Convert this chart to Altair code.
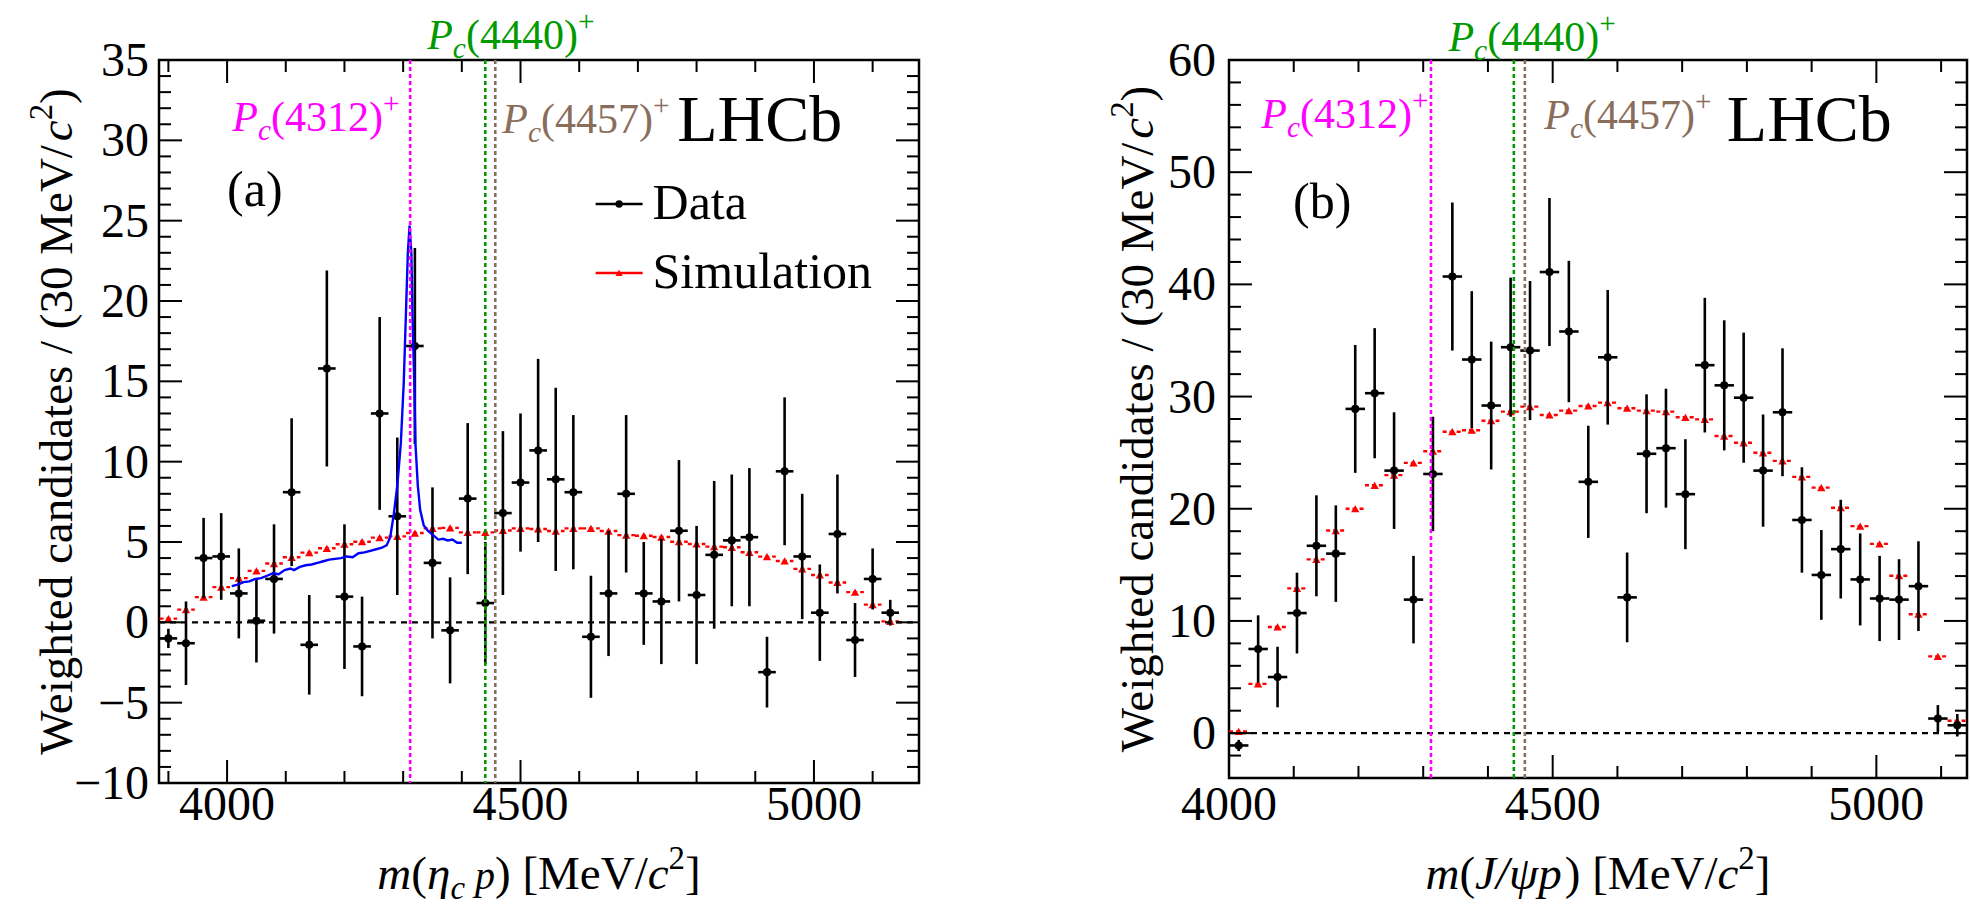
import altair as alt
import pandas as pd

FONT = "Liberation Serif"

# ---------------- panel (a): eta_c p ----------------
A_MASS = [3900, 3930, 3960, 3990, 4020, 4050, 4080, 4110, 4140, 4170, 4200, 4230, 4260, 4290,
          4320, 4350, 4380, 4410, 4440, 4470, 4500, 4530, 4560, 4590, 4620, 4650, 4680, 4710,
          4740, 4770, 4800, 4830, 4860, 4890, 4920, 4950, 4980, 5010, 5040, 5070, 5100, 5130]
A_DATA = [-1.0, -1.3, 4.0, 4.1, 1.8, 0.1, 2.7, 8.1, -1.4, 15.8, 1.6, -1.5, 13.0, 6.6,
          17.2, 3.7, -0.5, 7.7, 1.2, 6.8, 8.7, 10.7, 8.9, 8.1, -0.9, 1.8, 8.0, 1.8,
          1.3, 5.7, 1.7, 4.2, 5.1, 5.3, -3.1, 9.4, 4.1, 0.6, 5.5, -1.1, 2.7, 0.6]
A_ERR = [0.6, 2.6, 2.5, 2.7, 2.8, 2.6, 3.4, 4.6, 3.1, 6.1, 4.5, 3.1, 6.0, 4.9,
         6.1, 4.7, 3.3, 4.7, 3.8, 5.1, 4.3, 5.7, 5.7, 4.8, 3.8, 3.9, 4.9, 3.2,
         3.9, 4.4, 4.3, 4.6, 4.1, 4.3, 2.2, 4.6, 3.9, 3.0, 3.7, 2.3, 1.9, 0.8]
A_SIM = [0.23, 0.79, 1.57, 2.19, 2.75, 3.20, 3.66, 4.05, 4.34, 4.61, 4.86, 5.02, 5.27, 5.35,
         5.56, 5.85, 5.88, 5.60, 5.60, 5.72, 5.85, 5.81, 5.68, 5.85, 5.85, 5.68, 5.43, 5.39,
         5.31, 5.02, 4.88, 4.71, 4.67, 4.36, 4.09, 3.82, 3.33, 2.95, 2.48, 1.88, 1.10, 0.06]
A_CURVE_M = [4008, 4018, 4028, 4038, 4048, 4058, 4068, 4078, 4088, 4098, 4108, 4114, 4124, 4134,
             4144, 4154, 4164, 4174, 4184, 4194, 4204, 4214, 4224, 4234, 4244, 4254, 4264, 4272,
             4278, 4284, 4290, 4296, 4301, 4305, 4308, 4311, 4314, 4316, 4319, 4321, 4325, 4329,
             4335, 4342, 4352, 4360, 4368, 4376, 4384, 4392, 4400]
A_CURVE_Y = [2.25, 2.35, 2.5, 2.55, 2.7, 2.75, 2.9, 3.05, 3.0, 3.25, 3.35, 3.25, 3.45, 3.55,
             3.6, 3.7, 3.8, 3.9, 3.95, 4.0, 4.1, 4.05, 4.3, 4.35, 4.45, 4.55, 4.65, 4.8,
             5.3, 6.7, 8.5, 11.1, 14.9, 19.5, 23.0, 24.7, 23.0, 19.0, 14.9, 11.1, 8.5, 7.0,
             6.05, 5.7, 5.4, 5.15, 5.2, 5.1, 5.15, 4.95, 4.95]

# ---------------- panel (b): J/psi p ----------------
B_MASS = [4015, 4045, 4075, 4105, 4135, 4165, 4195, 4225, 4255, 4285, 4315, 4345, 4375,
          4405, 4435, 4465, 4495, 4525, 4555, 4585, 4615, 4645, 4675, 4705, 4735, 4765,
          4795, 4825, 4855, 4885, 4915, 4945, 4975, 5005, 5035, 5065, 5095, 5125]
B_DATA = [-1.1, 7.5, 5.0, 10.7, 16.7, 16.0, 28.9, 30.3, 23.4, 11.9, 23.1, 40.7, 33.3,
          29.2, 34.4, 34.1, 41.1, 35.8, 22.4, 33.5, 12.1, 24.9, 25.4, 21.3, 32.8, 31.0,
          29.9, 23.4, 28.6, 19.0, 14.1, 16.4, 13.7, 12.0, 11.9, 13.1, 1.3, 0.7]
B_ERR = [0.5, 3.0, 2.7, 3.6, 4.5, 4.3, 5.7, 5.8, 5.2, 3.9, 5.1, 6.6, 6.1,
         5.7, 6.2, 6.2, 6.6, 6.3, 5.0, 6.0, 4.0, 5.3, 5.3, 4.9, 6.0, 5.8,
         5.8, 5.0, 5.7, 4.7, 4.0, 4.4, 4.1, 3.8, 3.6, 4.0, 1.2, 1.0]
B_SIM = [0.15, 4.39, 9.46, 12.9, 15.49, 18.06, 20.0, 22.09, 23.0, 24.09, 25.13, 26.87, 27.0,
         27.85, 28.66, 29.1, 28.36, 28.75, 29.16, 29.46, 28.96, 28.75, 28.66, 28.15, 27.97, 26.48,
         25.88, 24.99, 24.27, 22.84, 21.88, 20.09, 18.45, 16.87, 14.03, 10.6, 6.84, 1.1]

HALF_BIN = 15
PC_MASS = [4312, 4440, 4457]
PC_NAME = ["4312", "4440", "4457"]
PC_COLOR = ["#ff00ff", "#009a00", "#8b6d5c"]

# tick labels
X_LABELS = [4000, 4500, 5000]
A_Y_LABELS = [-10, -5, 0, 5, 10, 15, 20, 25, 30, 35]
B_Y_LABELS = [0, 10, 20, 30, 40, 50, 60]

# label anchors (left edge in MeV, baseline in y units)
A_PC_X = [4009, 4341, 4469]
A_PC_Y = [30.58, 35.68, 30.46]
B_PC_X = [4050, 4339, 4487]
B_PC_Y = [53.94, 60.8, 53.85]

# --------------- text helpers ---------------
W_RM = {" ": .25, "(": .333, ")": .333, "[": .333, "]": .333, "/": .278, "+": .564,
        "0": .5, "1": .5, "2": .5, "3": .5, "4": .5, "5": .5, "6": .5, "7": .5, "8": .5, "9": .5,
        "M": .889, "e": .444, "V": .722, "W": .944, "i": .278, "g": .5, "h": .5, "t": .278,
        "d": .5, "c": .444, "a": .444, "n": .5, "s": .389, "L": .611, "H": .722, "C": .667,
        "b": .5, "D": .722, "S": .556, "m": .778, "u": .5, "l": .278, "o": .5}
W_IT = {"P": .611, "c": .444, "m": .722, "p": .5, "η": .5, "J": .444, "/": .278, "ψ": .686}


def tw(s, italic):
    tab = W_IT if italic else W_RM
    return sum(tab.get(ch, W_RM.get(ch, 0.5)) for ch in s)


ONE = pd.DataFrame({"k": [0]})


def fmt(v):
    return ("\u2212" + str(-v)) if v < 0 else str(v)


def rich(segs, size, color, ex, ey, src, align="left", angle=None):
    widths = [tw(t, st == "italic") * size * sc for t, st, sc, sh in segs]
    total = sum(widths)
    off = {"left": 0.0, "center": -total / 2, "right": -total}[align]
    out = []
    for (t, st, sc, sh), w in zip(segs, widths):
        fs = size * sc
        lead = len(t) - len(t.lstrip(" "))
        core = t.strip(" ")
        start = off + lead * W_RM[" "] * fs
        kw = dict(text=core, font=FONT, fontSize=fs, fontStyle=st, color=color,
                  align="left", baseline="alphabetic", dx=start, dy=-sh * size)
        if angle is not None:
            kw["angle"] = angle
        out.append(alt.Chart(src).mark_text(**kw).encode(x=ex, y=ey))
        off += w
    return out


def pc_segs(name):
    return [("P", "italic", 1, 0), ("c", "italic", 0.7, -0.22),
            ("(" + name + ")", "normal", 1, 0), ("+", "normal", 0.7, 0.42)]


def build_panel(cfg):
    W, H = cfg["w"], cfg["h"]
    xs = alt.Scale(domain=cfg["xdom"], nice=False, zero=False)
    ys = alt.Scale(domain=cfg["ydom"], nice=False, zero=False)

    def X(f):
        return alt.X(f, type="quantitative", scale=xs, axis=None)

    def Y(f):
        return alt.Y(f, type="quantitative", scale=ys, axis=None)

    m, d, e, s = cfg["mass"], cfg["data"], cfg["err"], cfg["sim"]
    df = pd.DataFrame({"m": m, "y": d, "lo": [a - b for a, b in zip(d, e)],
                       "hi": [a + b for a, b in zip(d, e)], "sim": s,
                       "mlo": [v - HALF_BIN for v in m], "mhi": [v + HALF_BIN for v in m]})
    layers = []
    # simulation
    layers.append(alt.Chart(df).mark_rule(color="red", strokeWidth=2.4, strokeDash=[4, 3]).encode(
        x=X("mlo"), x2="mhi", y=Y("sim")))
    layers.append(alt.Chart(df).mark_point(shape="triangle-up", filled=True, color="red",
                                           size=70, opacity=1).encode(x=X("m"), y=Y("sim")))
    # data
    layers.append(alt.Chart(df).mark_rule(color="black", strokeWidth=2.6).encode(
        x=X("m"), y=Y("lo"), y2="hi"))
    layers.append(alt.Chart(df).mark_rule(color="black", strokeWidth=2.6).encode(
        x=X("mlo"), x2="mhi", y=Y("y")))
    layers.append(alt.Chart(df).mark_circle(color="black", size=65, opacity=1).encode(
        x=X("m"), y=Y("y")))
    # fitted curve
    if cfg.get("curve_m"):
        cdf = pd.DataFrame({"m": cfg["curve_m"], "y": cfg["curve_y"]})
        layers.append(alt.Chart(cdf).mark_line(color="#0000ff", strokeWidth=2.4).encode(
            x=X("m"), y=Y("y")))
    # zero line
    layers.append(alt.Chart(pd.DataFrame({"y": [0]})).mark_rule(
        color="black", strokeWidth=2.2, strokeDash=[6, 5]).encode(
        y=Y("y"), x=alt.value(0), x2=alt.value(W)))
    # Pc lines
    pdf = pd.DataFrame({"m": PC_MASS, "col": PC_COLOR})
    layers.append(alt.Chart(pdf).mark_rule(strokeWidth=2.6, strokeDash=[4, 3]).encode(
        x=X("m"), y=alt.value(0), y2=alt.value(H), color=alt.Color("col:N", scale=None)))
    # ticks
    for vals, L in ((cfg["xmaj"], 23), (cfg["xmin"], 12)):
        tdf = pd.DataFrame({"v": vals})
        layers.append(alt.Chart(tdf).mark_rule(color="black", strokeWidth=2).encode(
            x=X("v"), y=alt.value(H), y2=alt.value(H - L)))
        layers.append(alt.Chart(tdf).mark_rule(color="black", strokeWidth=2).encode(
            x=X("v"), y=alt.value(0), y2=alt.value(L)))
    for vals, L in ((cfg["ymaj"], 23), (cfg["ymin"], 12)):
        tdf = pd.DataFrame({"v": vals})
        layers.append(alt.Chart(tdf).mark_rule(color="black", strokeWidth=2).encode(
            y=Y("v"), x=alt.value(0), x2=alt.value(L)))
        layers.append(alt.Chart(tdf).mark_rule(color="black", strokeWidth=2).encode(
            y=Y("v"), x=alt.value(W), x2=alt.value(W - L)))
    # tick labels
    xl = pd.DataFrame({"v": X_LABELS, "t": [fmt(v) for v in X_LABELS]})
    layers.append(alt.Chart(xl).mark_text(font=FONT, fontSize=48, align="center",
                                          baseline="alphabetic", color="black").encode(
        x=X("v"), y=alt.value(760), text="t:N"))
    yl = pd.DataFrame({"v": cfg["ylabels"], "t": [fmt(v) for v in cfg["ylabels"]]})
    layers.append(alt.Chart(yl).mark_text(font=FONT, fontSize=48, align="right",
                                          baseline="alphabetic", dy=16, color="black").encode(
        y=Y("v"), x=alt.value(cfg["ylx"]), text="t:N"))
    # Pc labels
    for name, col, lx, ly in zip(PC_NAME, PC_COLOR, cfg["pc_x"], cfg["pc_y"]):
        src = pd.DataFrame({"x": [lx], "y": [ly]})
        layers += rich(pc_segs(name), 42, col, X("x"), Y("y"), src)
    # LHCb and panel tag
    src = pd.DataFrame({"x": [cfg["lhcb"][0]], "y": [cfg["lhcb"][1]]})
    layers += rich([("LHCb", "normal", 1, 0)], 66, "black", X("x"), Y("y"), src)
    src = pd.DataFrame({"x": [cfg["tag"][0]], "y": [cfg["tag"][1]]})
    layers += rich([(cfg["tag"][2], "normal", 1, 0)], 50, "black", X("x"), Y("y"), src)
    # axis titles
    layers += rich(cfg["xtitle"], 47, "black", alt.value(W / 2), alt.value(829), ONE, align="center")
    ytitle = [("Weighted candidates / (30 MeV/", "normal", 1, 0), ("c", "italic", 1, 0),
              ("2", "normal", 0.7, 0.42), (")", "normal", 1, 0)]
    layers += rich(ytitle, 47, "black", alt.value(cfg["ytx"]), alt.value(H / 2), ONE,
                   align="center", angle=270)
    # legend
    if cfg.get("legend"):
        lg = cfg["legend"]
        ldf = pd.DataFrame({"x1": [lg["x1"]], "x2": [lg["x2"]], "xm": [(lg["x1"] + lg["x2"]) / 2],
                            "yd": [lg["yd"]], "ys": [lg["ys"]]})
        layers.append(alt.Chart(ldf).mark_rule(color="black", strokeWidth=2.5).encode(
            x=X("x1"), x2="x2", y=Y("yd")))
        layers.append(alt.Chart(ldf).mark_circle(color="black", size=55, opacity=1).encode(
            x=X("xm"), y=Y("yd")))
        layers.append(alt.Chart(ldf).mark_rule(color="red", strokeWidth=2.5).encode(
            x=X("x1"), x2="x2", y=Y("ys")))
        layers.append(alt.Chart(ldf).mark_point(shape="triangle-up", filled=True, color="red",
                                                size=50, opacity=1).encode(x=X("xm"), y=Y("ys")))
        for txt, yy in (("Data", lg["td"]), ("Simulation", lg["ts"])):
            src = pd.DataFrame({"x": [lg["tx"]], "y": [yy]})
            layers += rich([(txt, "normal", 1, 0)], 50, "black", X("x"), Y("y"), src)
    # invisible anchor fixing the top-left of the canvas
    if cfg.get("anchor"):
        layers.append(alt.Chart(ONE).mark_rule(strokeOpacity=0, strokeWidth=1, color="white").encode(
            x=alt.value(cfg["anchor"][0]), x2=alt.value(cfg["anchor"][0] + 5),
            y=alt.value(cfg["anchor"][1])))
    return alt.layer(*layers).properties(width=W, height=H)


cfg_a = dict(w=760, h=723, xdom=[3884, 5179], ydom=[-10, 35], mass=A_MASS, data=A_DATA,
             err=A_ERR, sim=A_SIM, curve_m=A_CURVE_M, curve_y=A_CURVE_Y,
             ylabels=A_Y_LABELS, ylx=-10,
             xmaj=[4000, 4500, 5000], xmin=[3900, 4100, 4200, 4300, 4400, 4600, 4700, 4800, 4900, 5100],
             ymaj=list(range(-10, 36, 5)), ymin=[v for v in range(-10, 36) if v % 5],
             pc_x=A_PC_X, pc_y=A_PC_Y, lhcb=(4767, 29.96), tag=(4000, 25.9, "(a)"),
             xtitle=[("m", "italic", 1, 0), ("(", "normal", 1, 0), ("η", "italic", 1, 0),
                     ("c", "italic", 0.7, -0.22), (" p", "italic", 0.85, 0), (")", "normal", 1, 0),
                     (" [MeV/", "normal", 1, 0), ("c", "italic", 1, 0), ("2", "normal", 0.7, 0.42),
                     ("]", "normal", 1, 0)],
             ytx=-87,
             legend=dict(x1=4628, x2=4708, yd=26.04, ys=21.75, tx=4725, td=25.11, ts=20.81),
             anchor=(-157.5, -58.5))

cfg_b = dict(w=738, h=718, xdom=[4000, 5140], ydom=[-4, 60], mass=B_MASS, data=B_DATA,
             err=B_ERR, sim=B_SIM,
             ylabels=B_Y_LABELS, ylx=-13,
             xmaj=[4000, 4500, 5000], xmin=[4100, 4200, 4300, 4400, 4600, 4700, 4800, 4900, 5100],
             ymaj=list(range(0, 61, 10)), ymin=[v for v in range(-4, 60, 2) if v % 10],
             pc_x=B_PC_X, pc_y=B_PC_Y, lhcb=(4769, 52.78), tag=(4099, 45.9, "(b)"),
             xtitle=[("m", "italic", 1, 0), ("(", "normal", 1, 0), ("J/ψp", "italic", 1, 0),
                     (")", "normal", 1, 0), (" [MeV/", "normal", 1, 0), ("c", "italic", 1, 0),
                     ("2", "normal", 0.7, 0.42), ("]", "normal", 1, 0)],
             ytx=-76)

chart = alt.hconcat(build_panel(cfg_a), build_panel(cfg_b), spacing=310, bounds="flush").properties(
    padding=0, background="white"
).configure_view(stroke="black", strokeWidth=2.5)

chart.save("out.html", embed_options={"renderer": "svg", "actions": False})
